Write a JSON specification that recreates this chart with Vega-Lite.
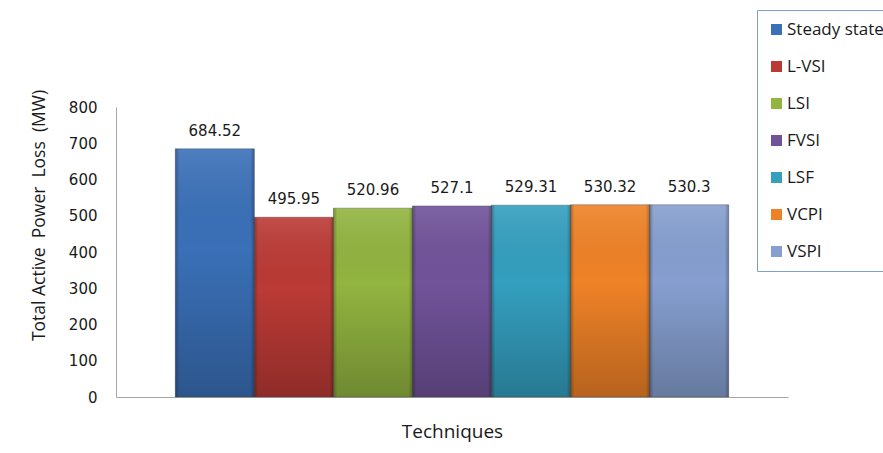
{
  "$schema": "https://vega.github.io/schema/vega-lite/v6.json",
  "width": 672,
  "height": 290,
  "autosize": {"type": "none"},
  "padding": {"left": 116, "top": 107, "right": 95, "bottom": 56},
  "background": "white",
  "config": {"view": {"stroke": null}},
  "data": {
    "values": [
      {"technique": "Steady state", "loss": 684.52},
      {"technique": "L-VSI", "loss": 495.95},
      {"technique": "LSI", "loss": 520.96},
      {"technique": "FVSI", "loss": 527.1},
      {"technique": "LSF", "loss": 529.31},
      {"technique": "VCPI", "loss": 530.32},
      {"technique": "VSPI", "loss": 530.3}
    ]
  },
  "encoding": {
    "x": {
      "field": "technique",
      "type": "nominal",
      "sort": null,
      "scale": {"paddingInner": 0, "paddingOuter": 0.75},
      "axis": {
        "labels": false,
        "ticks": false,
        "title": "Techniques",
        "domainColor": "#a6a6a6",
        "titleFont": "Open Sans",
        "titleFontSize": 19,
        "titleFontWeight": "normal",
        "titleColor": "#1a1a1a",
        "titleY": 40,
        "titleBaseline": "alphabetic"
      }
    },
    "y": {
      "field": "loss",
      "type": "quantitative",
      "scale": {"domain": [0, 800], "nice": false},
      "axis": {
        "values": [0, 100, 200, 300, 400, 500, 600, 700, 800],
        "grid": false,
        "ticks": false,
        "labelPadding": 19,
        "labelFont": "DejaVu Sans",
        "labelFontSize": 15,
        "labelColor": "#1a1a1a",
        "domainColor": "#a6a6a6",
        "title": "Total Active\u00a0 Power\u00a0 Loss\u00a0 (MW)",
        "titleFont": "Open Sans",
        "titleFontSize": 17.5,
        "titleFontWeight": "normal",
        "titleColor": "#1a1a1a",
        "titleX": -77,
        "titleY": 108,
        "titleAngle": 270,
        "titleBaseline": "middle",
        "titleAlign": "center"
      }
    }
  },
  "layer": [
    {
      "mark": {"type": "bar"},
      "encoding": {
        "color": {
          "field": "technique",
          "type": "nominal",
          "sort": null,
          "scale": {
            "domain": ["Steady state", "L-VSI", "LSI", "FVSI", "LSF", "VCPI", "VSPI"],
            "range": ["#3a70b8", "#bb3a35", "#92b440", "#71539a", "#349fbf", "#ef8227", "#869fd0"]
          },
          "legend": {
            "orient": "none",
            "legendX": 641,
            "legendY": -97,
            "title": null,
            "strokeColor": "#7f9fcf",
            "fillColor": "white",
            "padding": 11,
            "rowPadding": 19,
            "symbolType": "square",
            "symbolSize": 121,
            "symbolStrokeWidth": 0,
            "symbolOpacity": 1,
            "labelFont": "Open Sans",
            "labelFontSize": 17,
            "labelColor": "#1a1a1a",
            "labelOffset": 2,
            "labelLimit": 300
          }
        }
      }
    },
    {
      "mark": {
        "type": "bar",
        "fill": {
          "gradient": "linear",
          "x1": 0, "y1": 0, "x2": 0, "y2": 1,
          "stops": [
            {"offset": 0, "color": "rgba(255,255,255,0.10)"},
            {"offset": 0.4, "color": "rgba(0,0,0,0.0)"},
            {"offset": 1, "color": "rgba(0,0,0,0.24)"}
          ]
        }
      }
    },
    {
      "mark": {
        "type": "bar",
        "stroke": "rgba(60,60,60,0.45)",
        "strokeWidth": 0.8,
        "fill": {
          "gradient": "linear",
          "x1": 0, "y1": 0, "x2": 1, "y2": 0,
          "stops": [
            {"offset": 0, "color": "rgba(0,0,0,0.25)"},
            {"offset": 0.05, "color": "rgba(0,0,0,0.0)"},
            {"offset": 0.95, "color": "rgba(0,0,0,0.0)"},
            {"offset": 1, "color": "rgba(0,0,0,0.25)"}
          ]
        }
      }
    },
    {
      "mark": {
        "type": "text",
        "dy": -18,
        "baseline": "middle",
        "align": "center",
        "font": "DejaVu Sans",
        "fontSize": 15,
        "color": "#1a1a1a"
      },
      "encoding": {
        "text": {"field": "loss", "type": "quantitative", "format": ""}
      }
    }
  ]
}
